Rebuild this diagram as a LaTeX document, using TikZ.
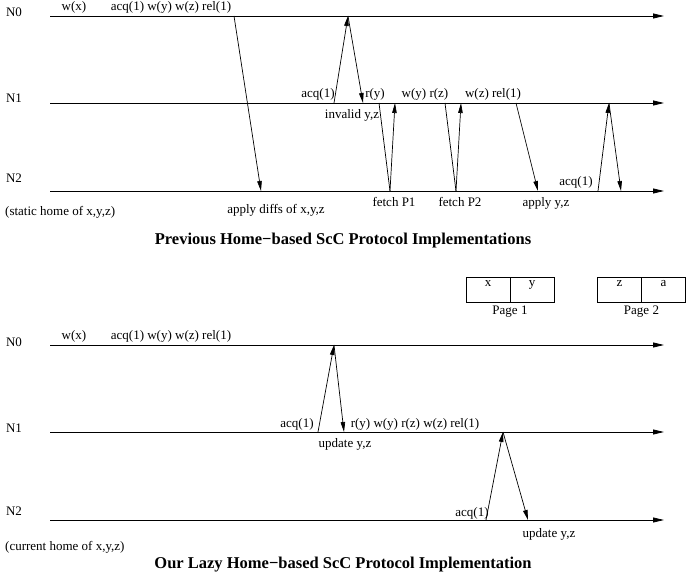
\documentclass[tikz,border=0pt]{standalone}
\usepackage{fontspec}
\setmainfont{Liberation Serif}
\usetikzlibrary{arrows.meta}

\begin{document}
\begin{tikzpicture}[x=1pt, y=-1pt,
  lbl/.style={font=\fontsize{13}{15}\selectfont, inner sep=0pt, anchor=base},
  ttl/.style={font=\fontsize{16.5}{19}\selectfont\bfseries, inner sep=0pt, anchor=base},
  tline/.style={line width=0.8pt, -{Triangle[length=11pt, width=5pt]}},
  msg/.style={line width=0.7pt, -{Triangle[length=10pt, width=4.5pt]}},
  wire/.style={line width=0.7pt},
  cell/.style={draw, line width=0.7pt, minimum width=44pt, minimum height=25pt,
    inner sep=0pt, text height=5pt, text depth=10pt, font=\fontsize{13}{15}\selectfont}]
  \useasboundingbox (0,0) rectangle (686,577);

  % time lines, previous protocol
  \foreach \n/\y/\ly in {0/16/17, 1/103/103, 2/191/183} {
    \coordinate (pS\n) at (50,\y);
    \coordinate (pE\n) at (664,\y);
    \draw[tline] (pS\n) -- (pE\n);
    \node[lbl] (pN\n) at (14,\ly) {N\n};
  }

  % operations
  \node[lbl] (pWx) at (74,11) {w(x)};
  \node[lbl] (pOps) at (171,11) {acq(1) w(y) w(z) rel(1)};
  \node[lbl] (pAcqA) at (318,98) {acq(1)};
  \node[lbl] (pRy) at (375,98) {r(y)};
  \node[lbl] (pWyRz) at (425,98) {w(y) r(z)};
  \node[lbl] (pWzRel) at (493,98) {w(z) rel(1)};
  \node[lbl] (pInv) at (352,119) {invalid y,z};
  \node[lbl, anchor=base west] (pHome) at (5,216) {(static home of x,y,z)};
  \node[lbl] (pDiffs) at (276,214) {apply diffs of x,y,z};
  \node[lbl] (pFetchA) at (394,207) {fetch P1};
  \node[lbl] (pFetchB) at (460,207) {fetch P2};
  \node[lbl] (pApply) at (546,207) {apply y,z};
  \node[lbl] (pAcqB) at (576,186) {acq(1)};

  % messages
  \coordinate (p1) at (234,16);   \coordinate (p2) at (261,191);
  \coordinate (p3) at (334,103);  \coordinate (p4) at (348,16);
  \coordinate (p5) at (363,103);
  \coordinate (p6) at (379,103);  \coordinate (p7) at (390,191);
  \coordinate (p8) at (395,103);
  \coordinate (p9) at (445,103);  \coordinate (p10) at (456,191);
  \coordinate (p11) at (461,103);
  \coordinate (p12) at (516,103); \coordinate (p13) at (538,191);
  \coordinate (p14) at (598,191); \coordinate (p15) at (609,103);
  \coordinate (p16) at (621,191);
  \foreach \a/\b in {p1/p2, p3/p4, p4/p5, p7/p8, p10/p11, p12/p13, p14/p15, p15/p16}
    \draw[msg] (\a) -- (\b);
  \draw[wire] (p6) -- (p7);
  \draw[wire] (p9) -- (p10);

  \node[ttl] (pTitle) at (343,245) {Previous Home−based ScC Protocol Implementations};

  % pages
  \node[cell] (pgX) at (488,289.5) {x};
  \node[cell] (pgY) at (532,289.5) {y};
  \node[cell] (pgZ) at (619.5,289.5) {z};
  \node[cell] (pgA) at (663.5,289.5) {a};
  \node[lbl] (pgOne) at (510,315) {Page 1};
  \node[lbl] (pgTwo) at (641.5,315) {Page 2};

  % time lines, lazy protocol
  \foreach \n/\y/\ly in {0/345/347, 1/432/433, 2/520/515} {
    \coordinate (bS\n) at (50,\y);
    \coordinate (bE\n) at (664,\y);
    \draw[tline] (bS\n) -- (bE\n);
    \node[lbl] (bN\n) at (14,\ly) {N\n};
  }

  % operations
  \node[lbl] (bWx) at (74,340) {w(x)};
  \node[lbl] (bOps) at (171,340) {acq(1) w(y) w(z) rel(1)};
  \node[lbl] (bAcqA) at (297,428) {acq(1)};
  \node[lbl] (bOpsB) at (415,428) {r(y) w(y) r(z) w(z) rel(1)};
  \node[lbl] (bUpdA) at (345,448) {update y,z};
  \node[lbl] (bAcqB) at (472,516) {acq(1)};
  \node[lbl] (bUpdB) at (549,537) {update y,z};
  \node[lbl, anchor=base west] (bHome) at (5,550) {(current home of x,y,z)};

  % messages
  \coordinate (b1) at (318,432); \coordinate (b2) at (334,345);
  \coordinate (b3) at (344,432);
  \coordinate (b4) at (486,520); \coordinate (b5) at (503,432);
  \coordinate (b6) at (528,520);
  \foreach \a/\b in {b1/b2, b2/b3, b4/b5, b5/b6}
    \draw[msg] (\a) -- (\b);

  \node[ttl] (bTitle) at (343,568) {Our Lazy Home−based ScC Protocol Implementation};

\end{tikzpicture}
\end{document}
